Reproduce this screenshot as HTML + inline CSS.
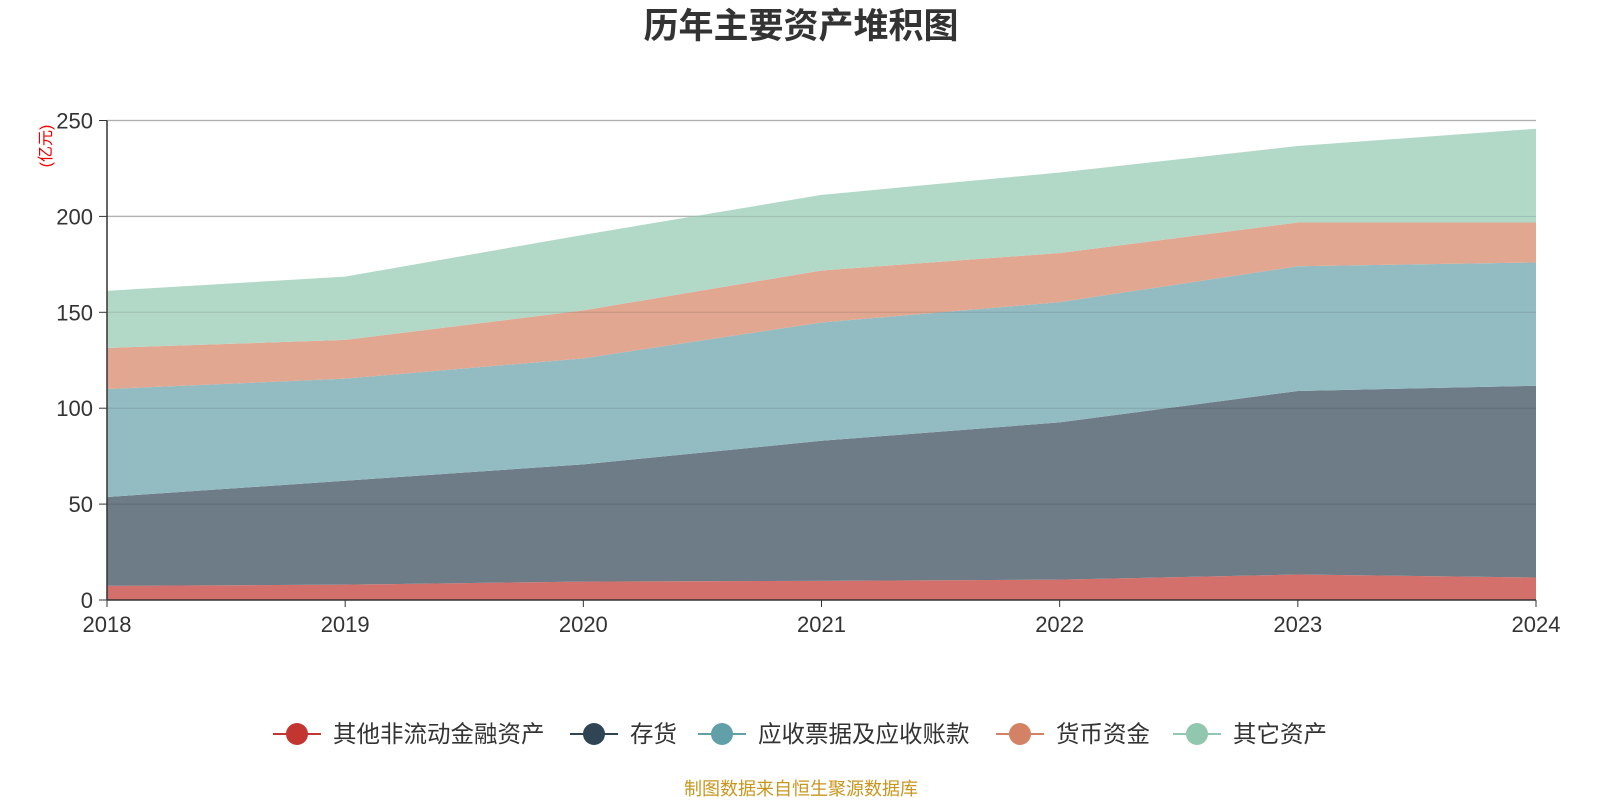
<!DOCTYPE html>
<html><head><meta charset="utf-8">
<style>
body{margin:0;background:#fff;font-family:"Liberation Sans","Noto Sans CJK SC",sans-serif;}
svg{display:block}
</style></head>
<body>
<svg id="chart" width="1600" height="800">
<text x="801" y="38" text-anchor="middle" font-size="35" font-weight="bold" fill="#333" font-family="Liberation Sans, Noto Sans CJK SC, sans-serif">历年主要资产堆积图</text>
<text transform="translate(51,146) rotate(-90)" text-anchor="middle" font-size="16" fill="#e00" font-family="Liberation Sans, Noto Sans CJK SC, sans-serif">(亿元)</text>
<g id="grid"></g><g id="areas"></g><g id="axes"></g><g id="legend"></g>
<text x="801" y="795" text-anchor="middle" font-size="18" fill="#c8961e" font-family="Liberation Sans, Noto Sans CJK SC, sans-serif">制图数据来自恒生聚源数据库</text>
</svg>
<script>
const years=['2018','2019','2020','2021','2022','2023','2024'];
const yTicks=[0,50,100,150,200,250];
const otherNonCurrent=[7.4,8,9.6,10,10.6,13.3,11.7];
const inventory=[46.3,54.2,61.1,73,82,95.7,100];
const receivables=[56.3,53.2,55.3,61.7,62.7,65,64.3];
const cash=[21.4,20.2,25,27.1,25.6,22.8,20.8];
const otherAssets=[29.8,33,39.4,39.4,42,39.9,48.9];
const seriesNames=['其他非流动金融资产','存货','应收票据及应收账款','货币资金','其它资产'];
const series=[otherNonCurrent,inventory,receivables,cash,otherAssets];
const fills=['#d4706c','#6e7c87','#93bcc2','#e1a791','#b2d9c7'];
const legendColors=['#c23531','#2f4554','#61a0a8','#d48265','#91c7ae'];
const seriesKeys=['other-noncurrent','inventory','receivables','cash','other-assets'];
const NS='http://www.w3.org/2000/svg';
const X0=107,X1=1536,Y0=600,Y1=120.5;
const xs=i=>X0+(X1-X0)*i/(years.length-1);
const ys=v=>Y0-(Y0-Y1)*v/250;
function mk(tag,attrs,parent){const e=document.createElementNS(NS,tag);for(const k in attrs)e.setAttribute(k,attrs[k]);parent.appendChild(e);return e;}
const grid=document.getElementById('grid'),areas=document.getElementById('areas'),axes=document.getElementById('axes'),legend=document.getElementById('legend');
yTicks.forEach(t=>{
  if(t>0){const l=mk('line',{x1:X0,x2:X1,y1:ys(t),y2:ys(t),stroke:'#c8c8c8','stroke-width':1.5},grid);
  
  }
  mk('line',{x1:X0-8,x2:X0,y1:ys(t),y2:ys(t),stroke:'#333'},axes);
  const tx=mk('text',{x:X0-14,y:ys(t)+8,'text-anchor':'end','font-size':22,fill:'#333'},axes);tx.textContent=t;
  
  
});
let base=years.map(()=>0);
series.forEach((s,k)=>{
  const top=s.map((v,i)=>base[i]+v);
  let d='M'+years.map((_,i)=>xs(i)+','+ys(top[i])).join('L');
  for(let i=years.length-1;i>=0;i--)d+='L'+xs(i)+','+ys(base[i]);
  const p=mk('path',{d:d+'Z',fill:fills[k]},areas);
  
  
  base=top;
});
yTicks.forEach(t=>{if(t>0)mk('line',{x1:X0,x2:X1,y1:ys(t),y2:ys(t),stroke:'rgba(0,0,0,0.12)','stroke-width':1},areas);});
mk('line',{x1:X0,x2:X0,y1:Y1,y2:Y0,stroke:'#333','stroke-width':1.5},axes);
mk('line',{x1:X0,x2:X1,y1:Y0,y2:Y0,stroke:'#333','stroke-width':1.5},axes);
years.forEach((y,i)=>{
  mk('line',{x1:xs(i),x2:xs(i),y1:Y0,y2:Y0+7,stroke:'#333'},axes);
  const tx=mk('text',{x:xs(i),y:Y0+32,'text-anchor':'middle','font-size':22,fill:'#333'},axes);tx.textContent=y;
  
  
});
const lx=[297,594,722,1020,1197];
seriesNames.forEach((n,k)=>{
  const g=mk('g',{},legend);
  
  
  mk('line',{x1:lx[k]-24,x2:lx[k]+24,y1:734,y2:734,stroke:legendColors[k],'stroke-width':2},g);
  mk('circle',{cx:lx[k],cy:734,r:11,fill:legendColors[k]},g);
  const t=mk('text',{x:lx[k]+36,y:742,'font-size':23.5,fill:'#333'},g);t.textContent=n;
});
</script>
</body></html>
